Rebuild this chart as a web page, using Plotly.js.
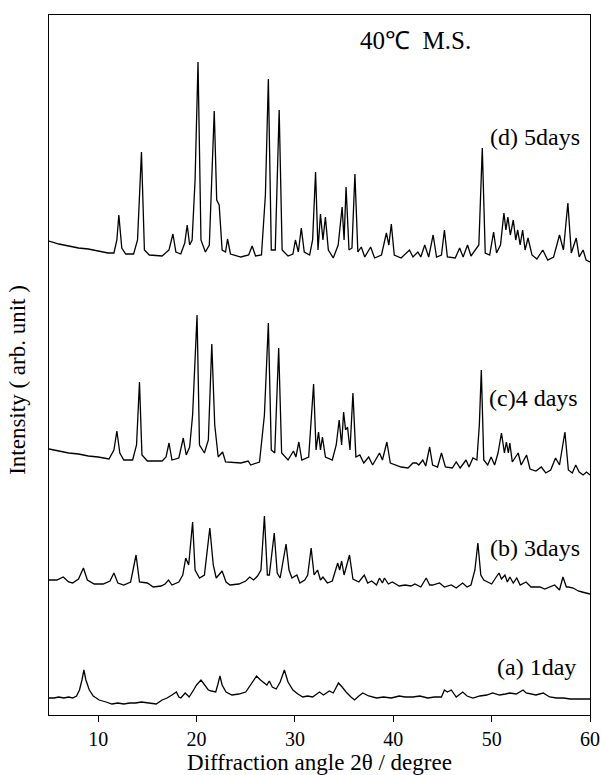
<!DOCTYPE html>
<html>
<head>
<meta charset="utf-8">
<script src="https://cdn.plot.ly/plotly-3.0.1.min.js"></script>
<style>html,body{margin:0;padding:0;background:#fff;}#chart{width:601px;height:775px;}</style>
</head>
<body>
<div id="chart"></div>
<script>
// Diffraction angle 2θ (degree) and stacked intensity (arb. unit) for each sample
const a1_x = [5.0,5.5,6.0,6.5,7.0,7.4,7.8,8.1,8.35,8.55,8.75,9.1,9.5,10.1,10.8,11.4,12.0,12.6,13.2,13.8,14.4,15.0,15.9,16.5,17.0,17.5,17.95,18.2,18.4,18.85,19.25,19.7,20.0,20.45,20.8,21.2,21.5,21.95,22.15,22.38,22.6,23.0,23.6,24.3,25.0,25.5,26.1,26.5,26.9,27.15,27.4,27.7,28.1,28.5,28.93,29.3,29.8,30.3,30.8,31.3,31.8,32.2,32.5,32.9,33.5,33.9,34.43,34.8,35.2,35.7,36.06,36.5,36.9,37.5,38.3,39.0,39.8,40.6,41.2,42.0,42.7,43.5,44.2,44.9,45.2,45.5,45.9,46.4,47.06,47.5,48.1,48.8,49.5,50.1,50.8,51.4,51.84,52.5,53.2,53.5,53.88,54.5,55.24,55.9,56.6,57.3,58.0,58.5,59.2,60.0];
const a1_y = [17,17,18,17,18,17,19,25,35,45,35,25,19,15,13,11,12,11,12,12,13,12,11,15,17,20,23,18,17,22,18,25,30,35,30,25,24,23,30,39,30,23,20,21,23,30,39,35,32,30,34,28,26,33,45,33,25,21,18,19,18,21,23,20,24,22,32,28,23,18,15,19,22,19,17,18,17,19,18,18,19,17,18,18,25,23,25,18,23,19,17,19,20,22,20,21,22,21,25,22,21,20,22,18,17,17,16,16,16,16];

const b3_x = [5.0,5.8,6.45,7.0,7.4,8.0,8.5,8.9,9.6,10.5,11.2,11.6,12.0,12.6,13.3,13.85,14.2,15.0,15.6,16.4,16.8,17.15,17.5,18.2,18.6,18.9,19.2,19.6,19.85,20.3,20.8,21.35,21.7,22.0,22.6,23.0,23.4,24.3,25.0,25.4,25.8,26.2,26.55,26.9,27.2,27.4,27.9,28.2,28.5,29.1,29.4,29.7,30.2,30.5,31.0,31.3,31.65,31.95,32.3,32.6,32.85,33.3,33.8,34.35,34.55,34.75,35.0,35.55,35.9,36.5,37.05,37.4,37.8,38.3,38.6,38.9,39.1,39.5,39.9,40.6,41.2,41.8,42.2,42.8,43.35,43.7,44.0,44.7,45.2,45.9,46.4,47.05,47.5,47.9,48.3,48.6,48.9,49.2,49.6,50.0,50.4,50.75,51.0,51.35,51.6,51.85,52.2,52.55,52.9,53.5,54.0,54.9,55.4,55.9,56.4,56.9,57.25,57.6,57.8,58.3,58.8,59.2,59.6,60.0];
const b3_y = [135,135,138,133,132,136,147,135,131,131,134,142,132,130,133,160,133,132,128,129,131,135,130,133,140,157,150,193,145,137,140,187,150,137,144,133,130,131,134,138,135,139,145,199,140,140,182,142,137,171,145,137,140,132,135,140,167,140,145,135,138,132,134,152,145,154,140,160,136,133,140,132,134,130,137,132,137,131,133,129,130,129,131,128,137,130,130,132,128,130,127,132,128,130,145,172,140,135,133,131,137,142,136,140,133,138,132,137,130,133,128,128,126,128,130,125,138,128,128,127,124,123,122,121];

const c4_x = [5.0,6.0,7.0,8.0,9.0,10.0,11.1,11.6,11.9,12.2,12.6,13.5,13.9,14.2,14.45,15.0,16.5,16.9,17.2,17.5,18.2,18.65,18.95,19.3,19.6,20.05,20.3,20.8,21.2,21.55,21.85,22.2,22.65,22.95,24.5,25.25,25.5,26.4,26.9,27.3,27.6,27.95,28.35,28.65,29.3,29.85,30.1,30.4,30.7,31.4,31.9,32.15,32.4,32.6,32.8,33.1,33.8,34.2,34.5,34.75,34.95,35.15,35.35,35.6,35.9,36.2,36.6,37.0,37.5,37.9,38.6,38.9,39.35,39.7,40.3,40.8,41.5,42.0,42.35,42.6,43.0,43.3,43.7,44.0,44.5,44.9,45.3,46.0,46.4,46.8,47.4,47.7,48.1,48.5,48.75,48.95,49.2,49.6,49.95,50.3,50.65,51.0,51.3,51.5,51.7,51.85,52.1,52.7,53.0,53.55,53.9,54.5,55.05,55.5,56.0,56.5,56.9,57.45,57.8,58.2,58.55,58.9,59.3,59.65,60.0];
const c4_y = [266,264,262,261,259,258,256,265,284,262,255,255,270,333,260,254,254,258,272,255,257,277,260,268,300,400,270,262,275,371,290,258,263,253,252,254,250,253,300,392,265,262,367,262,255,264,258,273,255,258,331,265,283,265,278,258,255,270,295,270,303,285,288,265,322,258,260,252,258,250,262,255,273,252,250,248,247,252,252,250,255,249,268,250,248,262,248,247,253,247,255,248,257,255,290,345,255,250,258,250,262,282,262,273,262,272,253,262,250,260,246,244,248,242,245,257,250,283,245,242,250,243,240,243,240];

const d5_x = [5.0,6.0,7.0,8.0,9.0,10.0,11.0,11.6,11.9,12.1,12.4,12.8,13.6,14.0,14.4,14.7,15.2,16.5,17.2,17.6,17.9,18.4,18.8,19.05,19.3,19.55,19.85,20.15,20.45,20.9,21.3,21.8,22.05,22.3,22.6,22.95,23.15,23.45,24.5,25.3,25.65,26.0,26.6,27.0,27.3,27.6,28.0,28.4,28.7,29.3,29.8,30.05,30.35,30.65,30.95,31.5,31.8,32.1,32.35,32.6,32.85,33.1,33.4,33.9,34.4,34.8,35.0,35.2,35.5,35.8,36.1,36.4,36.75,37.1,37.7,38.1,38.8,39.3,39.55,39.8,40.1,40.8,41.65,42.0,42.5,42.8,43.2,43.6,44.05,44.4,44.9,45.2,45.5,46.3,46.75,47.1,47.55,47.9,48.3,48.7,49.05,49.35,49.8,50.2,50.5,50.9,51.25,51.45,51.65,51.9,52.2,52.45,52.65,52.9,53.15,53.4,53.7,54.1,54.6,55.2,55.7,56.3,56.9,57.3,57.75,58.1,58.6,58.9,59.3,59.6,60.0];
const d5_y = [474,471,469,467,466,464,462,462,475,500,467,461,461,475,563,465,460,459,465,481,463,461,472,490,470,475,535,653,475,463,470,604,515,510,465,463,476,461,458,460,469,459,460,520,636,465,465,605,465,459,461,475,463,487,463,460,475,543,465,501,475,498,465,457,470,508,475,528,465,467,541,463,468,458,468,457,460,482,470,491,460,457,465,458,463,458,470,458,480,458,460,485,458,457,467,458,470,459,465,470,567,462,460,483,462,470,502,485,498,480,495,475,485,470,485,465,477,460,456,465,455,458,480,465,512,462,477,458,465,455,453];

const xTicks = [10,20,30,40,50,60];
const sampleLabels = ['(a) 1day','(b) 3days','(c)4 days','(d) 5days'];
const chartTitle = '40℃  M.S.';

const serif = 'Liberation Serif, Times New Roman, serif';
const line = {color:'#000', width:1.3};
const traces = [[a1_x,a1_y],[b3_x,b3_y],[c4_x,c4_y],[d5_x,d5_y]].map(([x,y],i)=>({
  x:x, y:y, type:'scatter', mode:'lines', line:line, name:sampleLabels[i], hoverinfo:'skip'
}));

const labelPos = [[0.902,0.069],[0.898,0.239],[0.896,0.453],[0.898,0.826]];
const annotations = sampleLabels.map((t,i)=>({
  text:t, xref:'paper', yref:'paper', x:labelPos[i][0], y:labelPos[i][1],
  xanchor:'center', yanchor:'middle', showarrow:false,
  font:{family:serif, size:24, color:'#000'}
}));
annotations.push({text:chartTitle, xref:'paper', yref:'paper', x:0.678, y:0.963,
  xanchor:'center', yanchor:'middle', showarrow:false, font:{family:serif, size:25, color:'#000'}});
annotations.push({text:'Intensity ( arb. unit )', xref:'paper', yref:'paper', x:-0.057, y:0.479,
  xanchor:'center', yanchor:'middle', textangle:-90, showarrow:false,
  font:{family:serif, size:23, color:'#000'}});

const layout = {
  width:601, height:775,
  margin:{l:49, r:11, t:15, b:60},
  paper_bgcolor:'#fff', plot_bgcolor:'#fff',
  showlegend:false,
  font:{family:serif, color:'#000'},
  xaxis:{range:[5,60], tickvals:xTicks, ticks:'outside', ticklen:6, tickwidth:1, tickcolor:'#000',
    showline:true, linecolor:'#000', linewidth:1, mirror:true, showgrid:false, zeroline:false,
    tickfont:{family:serif, size:20, color:'#000'},
    title:{text:'Diffraction angle 2θ / degree', font:{family:serif, size:23, color:'#000'}, standoff:3}},
  yaxis:{range:[0,700], showticklabels:false, ticks:'', showline:true, linecolor:'#000', linewidth:1,
    mirror:true, showgrid:false, zeroline:false},
  annotations:annotations
};
Plotly.newPlot('chart', traces, layout, {staticPlot:true, displayModeBar:false});
</script>
</body>
</html>
